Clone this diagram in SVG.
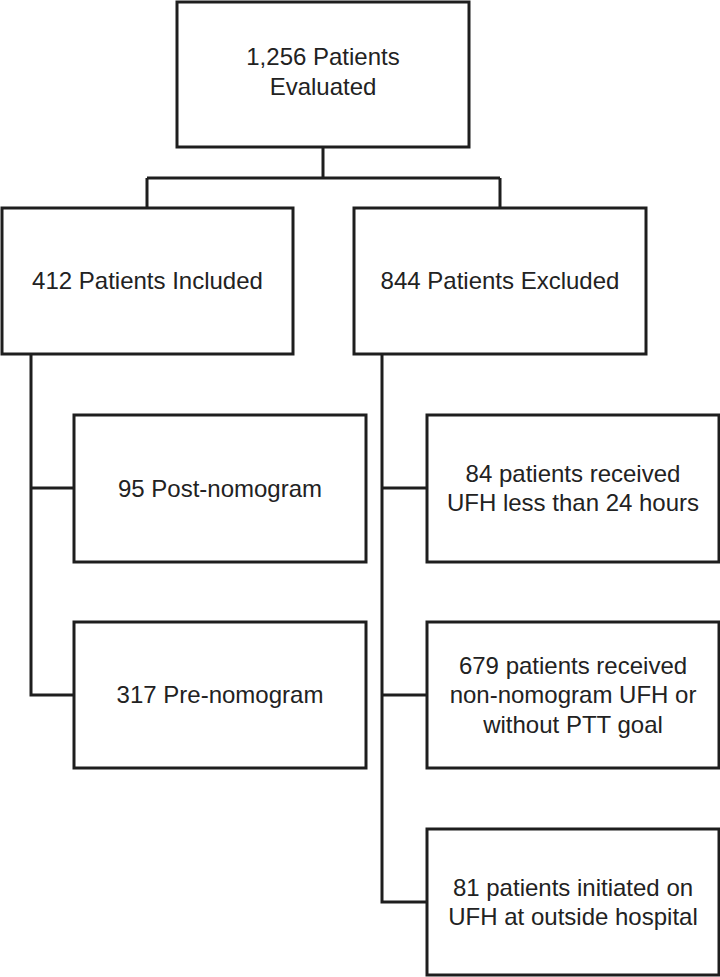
<svg xmlns="http://www.w3.org/2000/svg" width="720" height="977" viewBox="0 0 720 977">
<style>
.box{fill:#ffffff;stroke:#1e1e1e;stroke-width:3}
.ln{fill:none;stroke:#1e1e1e;stroke-width:3}
text{font-family:"Liberation Sans",Arial,sans-serif;font-size:24px;fill:#222222;text-anchor:middle}
</style>
<rect width="720" height="977" fill="#ffffff"/>
<g id="connectors">
<path class="ln" d="M323,147 V178 M147,178 H500 M147,178 V208 M500,178 V208"/>
<path class="ln" d="M31,354 V695 H74 M31,488 H74"/>
<path class="ln" d="M382,354 V902 H427 M382,488 H427 M382,695 H427"/>
</g>
<g id="evaluated">
<rect class="box" x="177" y="2" width="292" height="145"/>
<text x="323" y="65">1,256 Patients</text>
<text x="323" y="95">Evaluated</text>
</g>
<g id="included">
<rect class="box" x="2" y="208" width="291" height="146"/>
<text x="147.5" y="289">412 Patients Included</text>
</g>
<g id="excluded">
<rect class="box" x="354" y="208" width="292" height="146"/>
<text x="500" y="289">844 Patients Excluded</text>
</g>
<g id="post">
<rect class="box" x="74" y="415" width="292" height="147"/>
<text x="220" y="497">95 Post-nomogram</text>
</g>
<g id="pre">
<rect class="box" x="74" y="622" width="292" height="146"/>
<text x="220" y="703">317 Pre-nomogram</text>
</g>
<g id="lt24">
<rect class="box" x="427" y="415" width="292" height="147"/>
<text x="573" y="482">84 patients received</text>
<text x="573" y="511">UFH less than 24 hours</text>
</g>
<g id="nonnomogram">
<rect class="box" x="427" y="622" width="292" height="146"/>
<text x="573" y="674">679 patients received</text>
<text x="573" y="703">non-nomogram UFH or</text>
<text x="573" y="733">without PTT goal</text>
</g>
<g id="outside">
<rect class="box" x="427" y="829" width="292" height="146"/>
<text x="573" y="896">81 patients initiated on</text>
<text x="573" y="925">UFH at outside hospital</text>
</g>
</svg>
